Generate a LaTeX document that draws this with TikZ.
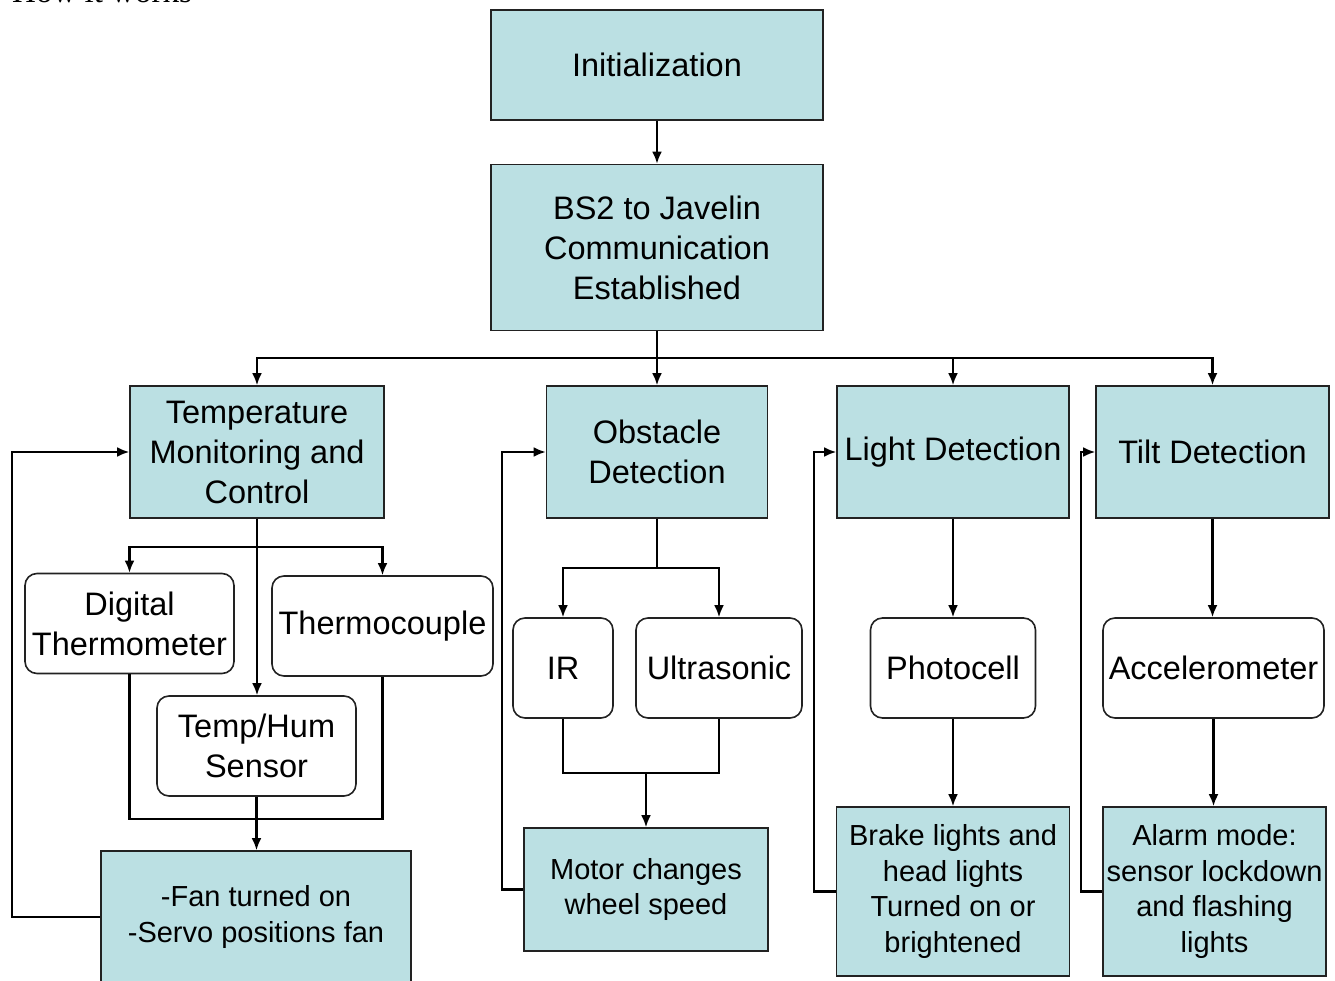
\documentclass[tikz,border=0pt]{standalone}
\usepackage{fontspec}
\setmainfont{Liberation Sans}
\newfontfamily\timesf{Liberation Serif}
\usetikzlibrary{arrows.meta}
\definecolor{boxfill}{RGB}{187,224,227}
\definecolor{boxline}{RGB}{34,34,34}
\begin{document}
\begin{tikzpicture}[x=1pt,y=-1pt,
  cbox/.style={draw=boxline, line width=1.6pt, fill=boxfill, align=center, inner sep=0pt,
    font=\fontsize{32.5}{40}\selectfont},
  sbox/.style={cbox, font=\fontsize{29}{35.5}\selectfont},
  rbox/.style={draw=boxline, line width=1.6pt, fill=white, rounded corners=12pt, align=center,
    inner sep=0pt, font=\fontsize{32.5}{40}\selectfont},
  conn/.style={line width=2.3pt},
  arr/.style={conn, -{Latex[length=12pt,width=10pt]}}]
\clip (0,0) rectangle (1335,981);
\useasboundingbox (0,0) rectangle (1335,981);

% title (cut off at top, as in the reference)
\node[anchor=base west, inner sep=0pt, font=\timesf\fontsize{33}{40}\selectfont] (title) at (12,3) {How it works};

% top boxes
\node[cbox, minimum width=332, minimum height=110] (init) at (657,65) {Initialization};
\node[cbox, minimum width=332, minimum height=166] (bs2) at (657,247.5) {BS2 to Javelin\\Communication\\Established};

% level 2
\node[cbox, minimum width=254, minimum height=132] (temp) at (257,452) {Temperature\\Monitoring and\\Control};
\node[cbox, minimum width=221, minimum height=132] (obs) at (657,452) {Obstacle\\Detection};
\node[cbox, minimum width=232, minimum height=132] (light) at (953,452) {Light Detection};
\node[cbox, minimum width=233, minimum height=132] (tilt) at (1212.5,452) {Tilt Detection};

% temperature subtree
\node[rbox, minimum width=209, minimum height=100] (dt) at (129.5,623.5) {Digital\\Thermometer};
\node[rbox, minimum width=221, minimum height=100] (tc) at (382.5,626) {Thermocouple};
\node[rbox, minimum width=199, minimum height=100] (th) at (256.5,746) {Temp/Hum\\Sensor};
\node[sbox, minimum width=310, minimum height=132] (fan) at (256,917) {-Fan turned on\\-Servo positions fan};

% obstacle subtree
\node[rbox, minimum width=100, minimum height=100] (ir) at (563,668) {IR};
\node[rbox, minimum width=166, minimum height=100] (us) at (719,668) {Ultrasonic};
\node[sbox, minimum width=244, minimum height=123] (motor) at (646,889.5) {Motor changes\\wheel speed};

% light subtree
\node[rbox, minimum width=165, minimum height=100] (photo) at (953,668) {Photocell};
\node[sbox, minimum width=233, minimum height=169] (brake) at (953,891.5) {Brake lights and\\head lights\\Turned on or\\brightened};

% tilt subtree
\node[rbox, minimum width=221, minimum height=100] (accel) at (1213.5,668) {Accelerometer};
\node[sbox, minimum width=223, minimum height=169] (alarm) at (1214.5,891.5) {Alarm mode:\\sensor lockdown\\and flashing\\lights};

% junction coordinates
\coordinate (bus) at (657,358);
\coordinate (tj) at (257,547);
\coordinate (tm) at (257,819);
\coordinate (oj) at (657,568);
\coordinate (om) at (646,773);
\coordinate (fbT) at (12,452);
\coordinate (fbO) at (502,452);
\coordinate (fbL) at (814,452);
\coordinate (fbA) at (1081,452);

% top connectors
\draw[arr] (init.south) -- (bs2.north);
\draw[conn] (bs2.south) -- (bus);
\draw[arr] (bus) -| (temp.north);
\draw[arr] (bus) -- (obs.north);
\draw[arr] (bus) -| (light.north);
\draw[arr] (bus) -| (tilt.north);

% temperature
\draw[arr] (temp.south) -- (tj) -| (dt.north);
\draw[arr] (tj) -| (tc.north);
\draw[arr] (temp.south) -- (temp.south |- th.north);
\draw[conn] (dt.south) |- (tm) -| (tc.south);
\draw[arr] (th.south) -- (th.south |- fan.north);
\draw[arr] (fan.west) -| (fbT) -- (temp.west);

% obstacle
\draw[arr] (obs.south) -- (oj) -| (ir.north);
\draw[arr] (oj) -| (us.north);
\draw[conn] (ir.south) |- (om) -| (us.south);
\draw[arr] (om) -- (motor.north);
\draw[arr] (motor.west) -| (fbO) -- (obs.west);

% light
\draw[arr] (light.south) -- (photo.north);
\draw[arr] (photo.south) -- (brake.north);
\draw[arr] (brake.west) -| (fbL) -- (light.west);

% tilt
\draw[arr] (tilt.south) -- (tilt.south |- accel.north);
\draw[arr] (accel.south) -- (accel.south |- alarm.north);
\draw[arr] (alarm.west) -| (fbA) -- (tilt.west);
\end{tikzpicture}
\end{document}
